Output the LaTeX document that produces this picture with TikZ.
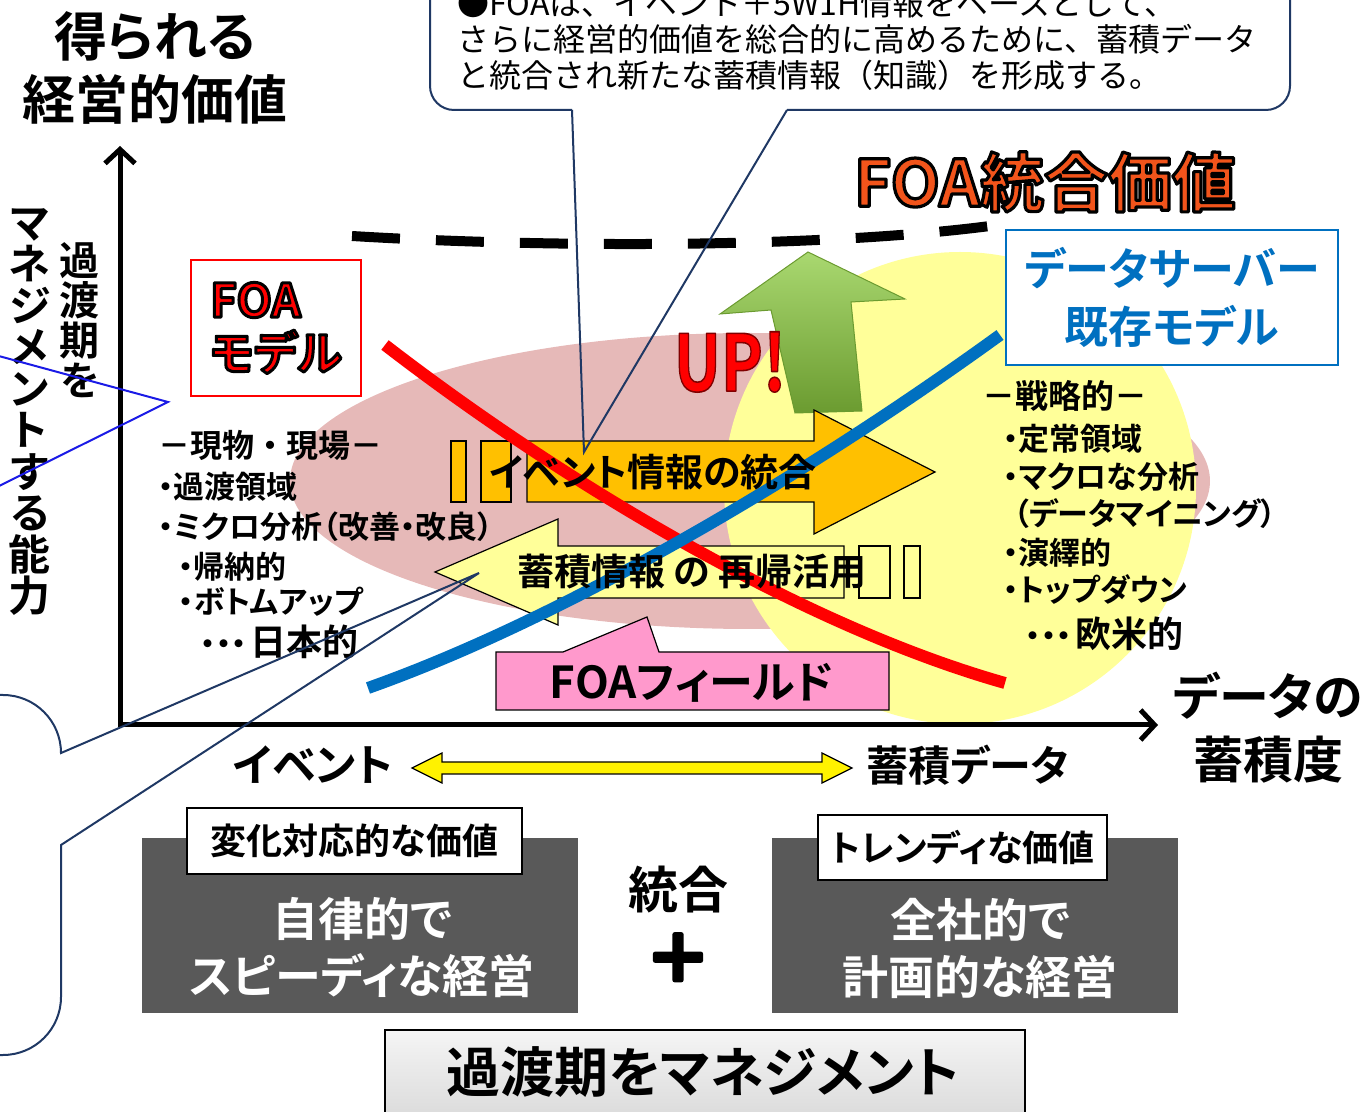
\documentclass[tikz,border=0pt]{standalone}
\usepackage{fontspec}
\setmainfont{Noto Sans CJK JP}[BoldFont={Noto Sans CJK JP Bold},RawFeature=+palt]
\newfontfamily\notefont{Noto Sans CJK JP}[BoldFont={Noto Sans CJK JP Bold}]
\usetikzlibrary{arrows.meta}

\definecolor{ellpink}{HTML}{E6B9B8}
\definecolor{paleyellow}{HTML}{FFFF99}
\definecolor{amber}{HTML}{FFC000}
\definecolor{fieldpink}{HTML}{FF99CC}
\definecolor{trendred}{HTML}{FF0000}
\definecolor{trendblue}{HTML}{0070C0}
\definecolor{boxgray}{HTML}{595959}
\definecolor{navy}{HTML}{1F3864}
\definecolor{pointblue}{HTML}{1A1AE6}
\definecolor{foaorange}{HTML}{F2541B}
\definecolor{upgreen}{HTML}{A9D870}
\definecolor{upgreendark}{HTML}{6B9B30}

\newcommand*{\fsz}[2]{\fontsize{#1}{#2}\selectfont}

% glyphs filled in the text colour and stroked round the edge
% #1 stroke colour (r g b), #2 stroke width in bp, #3 text
\newcommand*{\edgetext}[3]{%
	\special{pdf:literal direct #1 RG 2 Tr #2 w 1 j}#3\special{pdf:literal direct 0 Tr}}

\begin{document}
\begin{tikzpicture}
[
	x=0.5pt, y=-0.5pt,
	lbl/.style={inner sep=0pt},
	blockarrow/.style={draw=black,line width=0.6pt},
	trend/.style={line width=6pt},
	callout/.style={draw=navy,line width=1pt},
	valuetag/.style={draw=black,fill=white,line width=0.8pt,inner sep=0pt},
	darkbox/.style={fill=boxgray,inner sep=0pt},
	axis/.style={line width=2.5pt,line cap=rect}
]

	\useasboundingbox (0,0) rectangle (1362,1112);

	% axes end points
	\coordinate (origin) at (120,725);
	\coordinate (valtop) at (120,146);
	\coordinate (dataend) at (1158,725);

	% regions
	\fill[ellpink] (750,481) ellipse [x radius=460,y radius=148];
	\fill[paleyellow] (960,488) circle [radius=236];

	% integrated value level
	\draw[line width=5pt,dash pattern=on 24pt off 18pt] (352,236) .. controls (550,248) and (820,248) .. (990,226);

	% up arrow
	\path[draw=upgreendark,line width=0.5pt,top color=upgreen,bottom color=upgreendark]
		(795,413) -- (771,310) -- (720,314) -- (808,252) -- (905,299) -- (851,302) -- (862,411) -- cycle;

	% event integration arrow
	\path[blockarrow,fill=amber] (527,441) -- (814,441) -- (814,410) -- (935,472) -- (814,534) -- (814,502) -- (527,502) -- cycle;
	\path[blockarrow,fill=amber] (451,441) rectangle (466,502);
	\path[blockarrow,fill=amber] (481,441) rectangle (511,502);

	% recursive use arrow
	\path[blockarrow,fill=paleyellow] (844,546) -- (558,546) -- (558,519) -- (435,572) -- (558,625) -- (558,598) -- (844,598) -- cycle;
	\path[blockarrow,fill=paleyellow] (859,546) rectangle (890,598);
	\path[blockarrow,fill=paleyellow] (904,546) rectangle (920,598);

	% field callout
	\path[blockarrow,fill=fieldpink] (496,652) -- (563,652) -- (647,617) -- (659,652) -- (889,652) -- (889,710) -- (496,710) -- cycle;

	% trends
	\draw[trend,trendred] (385,345) .. controls (560,480) and (800,625) .. (1005,683);
	\draw[trend,trendblue] (368,688) .. controls (560,620) and (800,480) .. (1000,335);

	% arrow labels
	\node[lbl,font=\fsz{19}{19}\bfseries] (evlbl) at (653,472) {イベント情報の統合};
	\node[lbl,font=\fsz{18.5}{18.5}\bfseries] (reclbl) at (692,572) {蓄積情報 の 再帰活用};
	\node[lbl,font=\fsz{22}{22}\bfseries] (fieldlbl) at (692,683) {FOAフィールド};
	\node[lbl,text=trendred,font=\fsz{30}{30}\bfseries] (uplbl) at (730,362) {\scalebox{1.05}[1.3]{\edgetext{0.5 0 0}{0.6}{UP!}}};
	\node[lbl,text=foaorange,font=\fsz{32}{32}\bfseries] (foavalue) at (1045,182) {\edgetext{0 0 0}{1.6}{FOA統合価値}};

	% axes
	\draw[axis,{Straight Barb[length=7pt,width=15pt]}-{Straight Barb[length=7pt,width=15pt]}] (valtop) -- (origin) -- (dataend);

	% model boxes
	\node[draw=trendred,line width=1pt,fill=white,minimum width=85pt,minimum height=68pt,align=left,
		text=trendred,font=\fsz{23}{26.5}\bfseries] (foamodel) at (276,328) {\edgetext{0 0 0}{1.5}{FOA}\\\edgetext{0 0 0}{1.5}{モデル}};
	\node[draw=trendblue,line width=1pt,fill=white,minimum width=166pt,minimum height=67.5pt,align=center,
		text=trendblue,font=\fsz{22}{29}\bfseries] (serverbox) at (1172,297.5) {データサーバー\\既存モデル};

	% axis titles
	\node[lbl,align=center,font=\fsz{26.5}{31.5}\bfseries] (valuelbl) at (155,68) {得られる\\経営的価値};
	\node[lbl,align=center,font=\fsz{25}{31.5}\bfseries] (datalbl) at (1268,728) {データの\\蓄積度};
	\node[lbl,align=center,font=\fsz{20}{20}\bfseries] (transv) at (80,320) {過\\渡\\期\\を};
	\node[lbl,align=center,font=\fsz{21}{20.75}\bfseries] (managev) at (30,412) {マ\\ネ\\ジ\\メ\\ン\\ト\\す\\る\\能\\力};

	% field side
	\node[lbl,anchor=west,font=\notefont\fsz{16}{18}\bfseries] (genba) at (158,445) {－現物・現場－};
	\node[lbl,anchor=west,font=\fsz{15.5}{18}\bfseries] (kato) at (158,487) {・過渡領域};
	\node[lbl,anchor=west,font=\fsz{15.5}{18}\bfseries] (micro) at (158,527) {・ミクロ分析（改善・改良）};
	\node[lbl,anchor=west,font=\fsz{15.5}{18}\bfseries] (kino) at (178,567) {・帰納的};
	\node[lbl,anchor=west,font=\fsz{15.5}{18}\bfseries] (bottomup) at (178,602) {・ボトムアップ};
	\node[lbl,anchor=west,font=\fsz{15.5}{18}\bfseries] (nihon) at (200,642) {・・・\kern2pt{\fsz{18}{20}日本的}};

	% strategy side
	\node[lbl,anchor=west,font=\notefont\fsz{16.5}{18}\bfseries] (senryaku) at (982,396) {－戦略的－};
	\node[lbl,anchor=west,font=\fsz{15.5}{18}\bfseries] (teijo) at (1003,439) {・定常領域};
	\node[lbl,anchor=west,font=\fsz{15.5}{18}\bfseries] (macro) at (1003,477) {・マクロな分析};
	\node[lbl,anchor=west,font=\fsz{15.5}{18}\bfseries] (mining) at (1013,514) {（データマイニング）};
	\node[lbl,anchor=west,font=\fsz{15.5}{18}\bfseries] (eneki) at (1003,553) {・演繹的};
	\node[lbl,anchor=west,font=\fsz{15.5}{18}\bfseries] (topdown) at (1003,590) {・トップダウン};
	\node[lbl,anchor=west,font=\fsz{15.5}{18}\bfseries] (oubei) at (1025,634) {・・・\kern2pt{\fsz{18}{20}欧米的}};

	% note callout
	\coordinate (noteL) at (572,110);
	\coordinate (noteR) at (787,110);
	\coordinate (notetip) at (584,452);
	\path[callout,fill=white,rounded corners=12pt] (noteL) -- (430,110) -- (430,-40) -- (1290,-40) -- (1290,110) -- (noteR);
	\draw[callout] (noteL) -- (notetip) -- (noteR);
	\node[lbl,anchor=west,align=left,font=\notefont\fsz{16}{18}] (notetxt) at (457,40)
		{●FOAは、イベント＋5W1H情報をベースとして、\\さらに経営的価値を総合的に高めるために、蓄積データ\\と統合され新たな蓄積情報（知識）を形成する。};

	% left callout
	\coordinate (lefttip) at (479,573);
	\draw[callout] (-20,695) -- (3,695) .. controls (35,695) and (61,721) .. (61,753) -- (lefttip)
		-- (61,845) -- (61,997) .. controls (61,1029) and (35,1055) .. (3,1055) -- (-20,1055);

	% pointer from the left
	\coordinate (bluetip) at (168,402);
	\draw[pointblue,line width=1pt] (-5,355) -- (bluetip) -- (-5,488);

	% event and data ends
	\node[lbl,font=\fsz{22}{22}\bfseries] (evaxis) at (313,765) {イベント};
	\node[lbl,font=\fsz{21}{21}\bfseries] (accaxis) at (968,765) {蓄積データ};
	\path[blockarrow,fill=yellow] (412,768) -- (442,753) -- (442,762) -- (822,762) -- (822,753) -- (852,768)
		-- (822,783) -- (822,774) -- (442,774) -- (442,783) -- cycle;

	% management styles
	\node[darkbox,minimum width=218pt,minimum height=87.5pt] (speedbox) at (360,925.5) {};
	\node[darkbox,minimum width=203pt,minimum height=87.5pt] (planbox) at (975,925.5) {};
	\node[valuetag,minimum width=167.5pt,minimum height=33pt,font=\fsz{18}{18}\bfseries] (changetag) at (354.5,841) {変化対応的な価値};
	\node[valuetag,minimum width=144.5pt,minimum height=32.5pt,font=\fsz{18}{18}\bfseries] (trendtag) at (962.5,847.5) {トレンディな価値};
	\node[lbl,align=center,text=white,font=\fsz{23}{28.5}\bfseries] (speedtxt) at (362,948) {自律的で\\スピーディな経営};
	\node[lbl,align=center,text=white,font=\fsz{23}{28.5}\bfseries] (plantxt) at (980,948) {全社的で\\計画的な経営};
	\node[lbl,font=\fsz{25}{25}\bfseries] (togo) at (678,890) {統合};
	\node[lbl,font=\fsz{32}{32}\bfseries] (plus) at (678,958) {\edgetext{0 0 0}{2.4}{＋}};

	% banner
	\node[draw=black,line width=1pt,top color=gray!8,bottom color=gray!30,minimum width=320pt,minimum height=47.5pt] (banner) at (705,1077.5) {};
	\node[lbl,font=\fsz{27}{27}\bfseries] (bannertxt) at (703,1072) {過渡期をマネジメント};

\end{tikzpicture}
\end{document}
